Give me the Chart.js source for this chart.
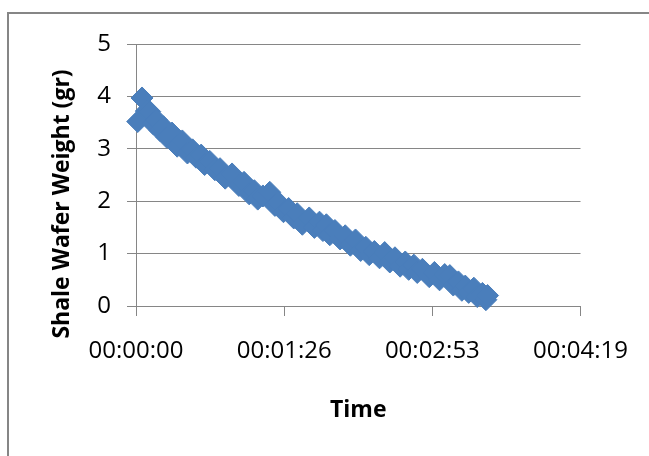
<!DOCTYPE html>
<html lang="en">
<head>
  <title>Shale Wafer Weight</title>
  <meta charset="UTF-8">
  <script src="https://cdn.jsdelivr.net/npm/chart.js"></script>
  <style>
    * { margin: 0; padding: 0; box-sizing: border-box; }
    html, body { width: 649px; height: 456px; overflow: hidden; background: white; }
    canvas { display: block; }
  </style>
</head>
<body>
  <canvas id="weightChart" width="649" height="456"></canvas>

  <script>
    // time in seconds, weight in grams
    const times = [1, 3.5, 6, 8, 10, 12, 14, 16, 18, 21, 24, 27, 30, 33, 35, 38, 40, 43, 46, 49,
      52, 56, 60, 63, 66, 69, 71, 74, 78, 81, 83, 86, 89, 92, 94, 97, 101, 104, 107, 109,
      111, 113, 116, 119, 122, 125, 128, 131, 134, 136, 139, 142, 145, 148, 151, 154, 157, 159, 162, 164,
      167, 171, 174, 177, 180, 183, 185, 188, 190, 192, 194, 197, 199, 202, 204, 205];
    const weights = [3.52, 3.97, 3.72, 3.71, 3.48, 3.55, 3.35, 3.42, 3.22, 3.30, 3.05, 3.15, 2.92, 2.98, 2.84, 2.88, 2.70, 2.76, 2.60, 2.62,
      2.44, 2.52, 2.30, 2.36, 2.14, 2.20, 2.04, 2.10, 2.17, 1.92, 1.98, 1.80, 1.86, 1.68, 1.76, 1.56, 1.68, 1.50, 1.60, 1.44,
      1.55, 1.36, 1.44, 1.28, 1.34, 1.16, 1.26, 1.06, 1.12, 0.98, 1.04, 0.92, 1.02, 0.84, 0.92, 0.76, 0.84, 0.70, 0.78, 0.64,
      0.70, 0.56, 0.64, 0.50, 0.60, 0.58, 0.40, 0.46, 0.30, 0.38, 0.26, 0.34, 0.18, 0.24, 0.12, 0.20];

    const xTickValues = [0, 86.4, 172.8, 259.2];
    const xTickLabels = ['00:00:00', '00:01:26', '00:02:53', '00:04:19'];
    const yTickValues = [0, 1, 2, 3, 4, 5];

    const gridGrey = '#868686';
    const fontFamily = "'Open Sans', sans-serif";

    // white page, grey frame and the rotated y title
    const framePlugin = {
      id: 'frame',
      beforeDraw(chart) {
        const ctx = chart.ctx;
        ctx.save();
        ctx.fillStyle = 'white';
        ctx.fillRect(0, 0, chart.width, chart.height);
        ctx.fillStyle = gridGrey;
        ctx.fillRect(7, 12, chart.width - 7, 2);
        ctx.fillRect(7, 12, 2, chart.height - 12);
        ctx.restore();
      },
      afterDraw(chart) {
        const ctx = chart.ctx;
        ctx.save();
        ctx.translate(62, 204);
        ctx.rotate(-Math.PI / 2);
        ctx.font = "bold 23px " + fontFamily;
        ctx.fillStyle = 'black';
        ctx.textAlign = 'center';
        ctx.textBaseline = 'middle';
        ctx.fillText('Shale Wafer Weight (gr)', 0, 0);
        ctx.restore();
      }
    };

    const ctx = document.getElementById('weightChart').getContext('2d');
    const weightChart = new Chart(ctx, {
      type: 'scatter',
      data: {
        datasets: [{
          data: times.map((t, i) => ({ x: t, y: weights[i] })),
          pointStyle: 'rectRot',
          pointRadius: 11,
          backgroundColor: '#4A7EBB',
          borderColor: '#4A7EBB',
          borderWidth: 1,
          clip: false
        }]
      },
      options: {
        responsive: false,
        animation: false,
        layout: { padding: { left: 0, top: 44, right: 64, bottom: 0 } },
        plugins: {
          legend: { display: false },
          tooltip: { enabled: false }
        },
        scales: {
          x: {
            type: 'linear',
            min: 0,
            max: 259.2,
            afterBuildTicks: (scale) => { scale.ticks = xTickValues.map(v => ({ value: v })); },
            afterFit: (scale) => { scale.height = 150; },
            ticks: {
              callback: (value, index) => xTickLabels[index],
              color: 'black',
              font: { family: fontFamily, size: 24 },
              padding: 21,
              maxRotation: 0,
              autoSkip: false
            },
            grid: { drawOnChartArea: false, drawTicks: true, tickLength: 10, color: gridGrey },
            border: { color: gridGrey },
            title: {
              display: true,
              text: 'Time',
              color: 'black',
              font: { family: fontFamily, size: 23, weight: 'bold' },
              padding: { top: 0, bottom: 32 }
            }
          },
          y: {
            min: 0,
            max: 5,
            afterBuildTicks: (scale) => { scale.ticks = yTickValues.map(v => ({ value: v })); },
            afterFit: (scale) => { scale.width = 136; },
            ticks: {
              color: 'black',
              font: { family: fontFamily, size: 24 },
              padding: 16
            },
            grid: { tickLength: 9, color: gridGrey },
            border: { color: gridGrey }
          }
        }
      },
      plugins: [framePlugin]
    });
  </script>
</body>
</html>
